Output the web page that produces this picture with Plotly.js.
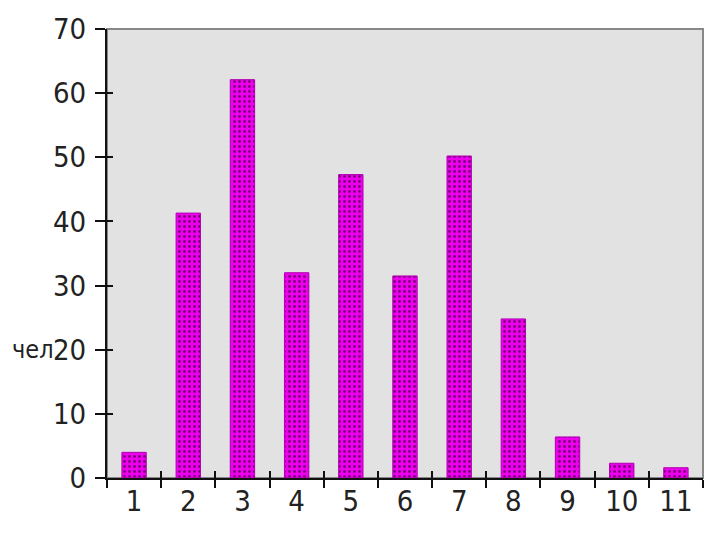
<!DOCTYPE html>
<html><head><meta charset="utf-8">
<script src="https://cdn.plot.ly/plotly-3.0.1.min.js"></script>
<style>html,body{margin:0;padding:0;background:#fff}#chart{width:706px;height:533px}</style>
</head><body><div id="chart"></div>
<script>
const categories = ['1','2','3','4','5','6','7','8','9','10','11'];
const values = [4, 41.3, 62.1, 32, 47.3, 31.5, 50.2, 24.8, 6.4, 2.3, 1.6];
const yTicks = [0,10,20,30,40,50,60,70];
const yLabel = 'чел';

const fam = 'DejaVu Sans Condensed, Liberation Sans Narrow, Liberation Sans, Arial, sans-serif';
const fnt = {family: fam, size: 29, color: '#222'};

const trace = {
  type: 'bar', x: categories, y: values, width: 0.45,
  marker: {color: '#e600e6', line: {color: '#b000b0', width: 1},
           pattern: {shape: '.', fgcolor: '#7a007a', bgcolor: '#ee00ee', size: 5, solidity: 0.25}},
  hoverinfo: 'skip'
};
const t2 = {type: 'scatter', mode: 'markers', x: categories, y: categories.map(() => null), xaxis: 'x2', yaxis: 'y2', hoverinfo: 'skip'};
const layout = {
  width: 706, height: 533,
  margin: {l: 107, r: 3, t: 29, b: 55},
  paper_bgcolor: '#ffffff', plot_bgcolor: '#e2e2e2',
  showlegend: false,
  xaxis: {type: 'category', tickson: 'boundaries', ticks: 'outside', ticklen: 8, tickwidth: 2, tickcolor: '#111',
          ticklabelstandoff: -4,
          showline: true, linecolor: '#111', linewidth: 2, showgrid: false, tickfont: fnt, zeroline: false, fixedrange: true},
  xaxis2: {type: 'category', overlaying: 'x', categoryarray: categories, range: [-0.5, 10.5], tickson: 'boundaries',
           ticks: 'inside', ticklen: 7, tickwidth: 2, tickcolor: '#111', showticklabels: false, showgrid: false,
           zeroline: false, showline: false, fixedrange: true},
  yaxis: {range: [0, 70], tickvals: yTicks, ticks: 'outside', ticklen: 10, tickwidth: 2, tickcolor: '#111',
          ticklabelstandoff: 3,
          showline: true, linecolor: '#111', linewidth: 2, showgrid: false, zeroline: false, tickfont: fnt, fixedrange: true},
  yaxis2: {range: [0, 70], overlaying: 'y', tickvals: yTicks, ticks: 'inside', ticklen: 6, tickwidth: 2, tickcolor: '#111',
           showticklabels: false, showgrid: false, zeroline: false, showline: false, fixedrange: true},
  shapes: [{type: 'rect', xref: 'paper', yref: 'paper', x0: 0, x1: 1, y0: 0, y1: 1, line: {color: '#888', width: 2}, layer: 'below'}],
  annotations: [{text: yLabel, xref: 'paper', yref: 'y', x: -0.085, y: 20, xanchor: 'right', yanchor: 'middle',
                 showarrow: false, font: {family: fam, size: 25, color: '#222'}}]
};
Plotly.newPlot('chart', [trace, t2], layout, {displayModeBar: false, staticPlot: true});
</script></body></html>
